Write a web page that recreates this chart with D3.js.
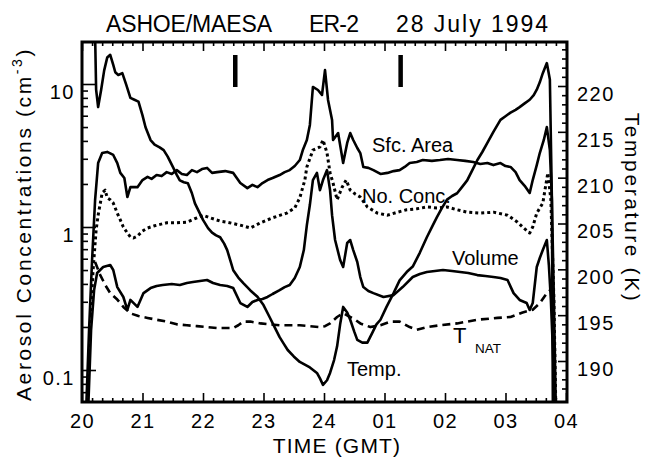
<!DOCTYPE html>
<html>
<head>
<meta charset="utf-8">
<script src="https://cdn.jsdelivr.net/npm/d3@7"></script>
<style>
  body { margin: 0; background: #fff; }
  svg text { font-family: "Liberation Sans", Arial, Helvetica, sans-serif; fill: #000; }
</style>
</head>
<body>
<script>
// time in minutes after 20:00 GMT, 28 July 1994
const timeTicks = [0, 60, 120, 180, 240, 300, 360, 420, 480];
const timeLabels = ["20", "21", "22", "23", "24", "01", "02", "03", "04"];
const concTicks = [0.1, 1, 10];
const concLabels = ["0.1", "1", "10"];
const tempTicks = [190, 195, 200, 205, 210, 215, 220];
const markerTimes = [152, 316];

// surface area [min, value]
const sfcArea = [
  [4, 0.05], [7, 0.19], [10, 0.588], [13, 1.55], [16, 2.80], [20, 3.29], [25, 3.35], [31, 3.19],
  [35, 2.80], [38, 2.39], [42, 2.20], [45, 1.62], [48, 1.90], [55, 1.90], [60, 2.13], [65, 2.24],
  [69, 2.17], [74, 2.31], [79, 2.27], [84, 2.42], [89, 2.35], [94, 2.50], [99, 2.35], [104, 2.31],
  [109, 2.50], [114, 2.42], [119, 2.54], [124, 2.59], [129, 2.39], [134, 2.42], [142, 2.46], [150, 2.39],
  [157, 2.03], [164, 1.87], [169, 1.97], [174, 1.90], [179, 2.03], [184, 2.13], [189, 2.20], [196, 2.31],
  [201, 2.42], [206, 2.50], [211, 2.67], [216, 2.94], [219, 3.45], [223, 4.06], [226, 5.17], [229, 9.53],
  [234, 9.08], [238, 8.38], [241, 12.5], [244, 7.73], [248, 5.60], [249, 4.06], [254, 4.54], [259, 2.80],
  [263, 3.87], [266, 4.54], [269, 4.06], [273, 3.57], [276, 3.29], [279, 2.63], [284, 2.59], [289, 2.50],
  [296, 2.35], [303, 2.39], [309, 2.46], [315, 2.50], [320, 2.63], [325, 2.80], [332, 2.85], [338, 2.94],
  [347, 2.90], [355, 2.94], [363, 2.99], [372, 2.94], [380, 2.90], [388, 2.85], [395, 2.76], [402, 2.80],
  [408, 2.71], [415, 2.80], [420, 2.67], [425, 2.63], [430, 2.42], [434, 2.13], [439, 1.94], [444, 1.73],
  [447, 2.13], [451, 2.71], [454, 3.29], [458, 4.06], [461, 5.00], [464, 3.45], [466, 1.55], [468, 0.309],
  [470, 0.05]
];

const noConc = [
  [5, 0.05], [8, 0.19], [11, 0.500], [14, 0.953], [16, 1.21], [20, 1.73], [23, 1.81], [25, 1.60],
  [28, 1.55], [31, 1.47], [35, 1.25], [38, 1.12], [41, 1.00], [45, 0.908], [48, 0.851], [51, 0.838],
  [55, 0.865], [60, 0.938], [65, 0.984], [72, 1.02], [84, 1.07], [94, 1.07], [104, 1.08], [114, 1.16],
  [120, 1.21], [127, 1.16], [137, 1.10], [144, 1.08], [157, 1.03], [167, 0.984], [177, 1.07], [189, 1.16],
  [203, 1.25], [211, 1.36], [216, 1.60], [221, 2.13], [223, 2.63], [229, 3.45], [236, 3.63], [239, 4.06],
  [243, 3.29], [246, 2.39], [249, 2.03], [253, 1.55], [258, 1.90], [262, 2.13], [266, 1.81], [271, 1.70],
  [276, 1.62], [283, 1.38], [293, 1.25], [303, 1.21], [313, 1.27], [322, 1.32], [332, 1.34], [342, 1.38],
  [352, 1.36], [362, 1.38], [372, 1.32], [382, 1.27], [395, 1.25], [408, 1.27], [422, 1.21], [432, 1.08],
  [438, 0.984], [444, 0.908], [447, 1.00], [451, 1.25], [457, 1.47], [460, 1.97], [462, 2.39], [465, 1.55],
  [468, 0.309], [470, 0.05]
];

const volume = [
  [6, 0.05], [9, 0.19], [12, 0.362], [15, 0.477], [21, 0.525], [28, 0.542], [31, 0.500], [35, 0.380],
  [41, 0.324], [45, 0.263], [48, 0.309], [55, 0.276], [61, 0.345], [68, 0.374], [74, 0.387], [80, 0.393],
  [89, 0.399], [97, 0.393], [104, 0.406], [110, 0.412], [117, 0.419], [124, 0.426], [130, 0.406], [137, 0.393],
  [144, 0.387], [150, 0.374], [157, 0.294], [164, 0.276], [169, 0.299], [174, 0.309], [179, 0.314], [184, 0.324],
  [189, 0.340], [196, 0.362], [201, 0.380], [206, 0.393], [211, 0.440], [216, 0.525], [220, 0.690], [223, 1.03],
  [226, 1.43], [229, 2.13], [233, 2.39], [236, 1.81], [239, 2.13], [243, 2.50], [246, 1.81], [248, 1.21],
  [251, 0.811], [256, 0.588], [259, 0.525], [263, 0.773], [266, 0.811], [269, 0.690], [273, 0.569], [276, 0.447],
  [279, 0.380], [284, 0.357], [289, 0.345], [299, 0.324], [309, 0.334], [318, 0.380], [328, 0.447], [335, 0.469],
  [342, 0.484], [350, 0.492], [358, 0.500], [367, 0.492], [375, 0.484], [383, 0.477], [392, 0.461], [400, 0.454],
  [408, 0.447], [415, 0.440], [422, 0.426], [428, 0.345], [434, 0.309], [441, 0.294], [444, 0.263], [447, 0.294],
  [451, 0.525], [454, 0.607], [457, 0.690], [461, 0.811], [463, 0.542], [465, 0.309], [467, 0.138], [469, 0.05]
];

// temperature (K) [min, K]
const temp = [
  [13, 225.6], [14, 219.6], [16, 217.7], [19, 219.6], [22, 221.7], [25, 223.1], [28, 223.4], [31, 222.3],
  [33, 221.5], [36, 221.2], [40, 221.4], [44, 220.1], [48, 218.7], [52, 218.5], [56, 218.3], [60, 216.8],
  [63, 215.5], [68, 214.1], [72, 213.6], [77, 213.3], [81, 213.0], [85, 212.3], [90, 211.2], [94, 210.3],
  [97, 209.7], [101, 209.5], [105, 209.4], [109, 208.3], [112, 207.2], [116, 206.3], [120, 205.4], [125, 204.5],
  [129, 204.0], [133, 203.7], [137, 203.5], [141, 202.8], [144, 202.1], [147, 201.0], [150, 199.9], [155, 199.1],
  [160, 198.5], [167, 197.7], [174, 197.0], [180, 196.1], [186, 194.8], [191, 193.7], [196, 192.6], [200, 191.9],
  [204, 191.2], [210, 190.5], [216, 189.9], [221, 189.6], [226, 189.3], [233, 188.7], [236, 188.1], [239, 187.4],
  [243, 187.9], [246, 188.7], [250, 190.1], [253, 191.6], [256, 194.0], [259, 195.9], [263, 195.3], [266, 194.5],
  [270, 193.2], [273, 192.3], [278, 192.0], [283, 192.0], [288, 193.1], [292, 194.0], [296, 194.5], [302, 195.9],
  [309, 197.4], [315, 198.8], [322, 199.7], [328, 200.3], [335, 201.8], [342, 203.5], [347, 204.6], [352, 205.7],
  [357, 206.7], [362, 207.6], [367, 208.0], [372, 208.3], [377, 209.0], [382, 209.7], [387, 210.8], [392, 211.9],
  [397, 212.8], [402, 213.8], [408, 215.0], [415, 216.3], [420, 216.7], [425, 217.1], [430, 217.4], [434, 217.7],
  [439, 218.1], [444, 218.5], [448, 219.0], [451, 219.6], [454, 220.4], [457, 221.4], [461, 222.5], [464, 220.7],
  [466, 207.6], [467, 184.7]
];

const tNat = [
  [13, 200.8], [18, 199.4], [23, 198.3], [28, 197.4], [35, 196.7], [41, 195.9], [48, 195.2], [56, 194.9],
  [65, 194.7], [74, 194.5], [84, 194.3], [94, 194.0], [104, 193.9], [114, 193.8], [124, 193.7], [134, 193.6],
  [144, 193.6], [150, 193.6], [155, 193.9], [160, 194.3], [167, 194.3], [177, 194.1], [186, 194.0], [196, 193.9],
  [206, 193.9], [216, 193.9], [226, 193.8], [236, 193.7], [241, 193.8], [246, 194.1], [253, 194.8], [259, 195.2],
  [266, 194.8], [271, 194.5], [276, 194.1], [286, 193.7], [296, 193.9], [306, 194.3], [315, 194.3], [320, 194.0],
  [325, 193.7], [332, 193.4], [342, 193.7], [355, 193.9], [372, 194.1], [392, 194.5], [412, 194.7], [425, 194.8],
  [437, 195.3], [447, 195.6], [454, 196.3], [461, 197.4], [464, 197.7]
];

const w = 648, h = 459;
const pLeft = 82, pRight = 567, pTop = 42, pBottom = 402;

const x = d3.scaleLinear().domain([0, 480]).range([pLeft, pRight - 1]);
const yC = d3.scaleLog().domain([0.1, 10]).range([370, 84]);
const yT = d3.scaleLinear().domain([190, 220]).range([361, 86]);

const svg = d3.select("body").append("svg").attr("width", w).attr("height", h);

svg.append("clipPath").attr("id", "plot")
  .append("rect").attr("x", pLeft).attr("y", pTop).attr("width", pRight - pLeft).attr("height", pBottom - pTop);

const g = svg.append("g").attr("clip-path", "url(#plot)");

const lineC = d3.line().x(d => x(d[0])).y(d => yC(d[1]));
const lineT = d3.line().x(d => x(d[0])).y(d => yT(d[1]));

function draw(data, fn, dash, sw) {
  g.append("path").datum(data)
    .attr("d", fn)
    .attr("fill", "none")
    .attr("stroke", "#000")
    .attr("stroke-width", sw)
    .attr("stroke-linejoin", "round")
    .attr("stroke-dasharray", dash);
}

draw(sfcArea, lineC, null, 2.6);
draw(noConc, lineC, "3,3", 3);
draw(volume, lineC, null, 2.6);
draw(temp, lineT, null, 2.6);
draw(tNat, lineT, "8,5", 2.6);

// turn markers
g.selectAll("line.mark").data(markerTimes).enter().append("line")
  .attr("x1", d => x(d)).attr("x2", d => x(d))
  .attr("y1", 55).attr("y2", 87)
  .attr("stroke", "#000").attr("stroke-width", 4.5);

// axes
const minorTimes = d3.range(0, 481, 10).filter(d => d % 60 !== 0);
const minorConc = [0.06, 0.07, 0.08, 0.09, 0.2, 0.3, 0.4, 0.5, 0.6, 0.7, 0.8, 0.9, 2, 3, 4, 5, 6, 7, 8, 9];
const minorTemp = d3.range(187, 226).filter(d => d % 5 !== 0);

function styleAxis(sel) {
  sel.select(".domain").remove();
  sel.selectAll(".tick line").attr("stroke", "#000").attr("stroke-width", 1.6);
  sel.selectAll("text").attr("font-size", 20).attr("font-family", null).attr("letter-spacing", 1.5);
}

svg.append("g").attr("transform", `translate(0,${pBottom})`)
  .call(d3.axisBottom(x).tickValues(timeTicks).tickSize(-9).tickPadding(12)
    .tickFormat((d, i) => timeLabels[i]))
  .call(styleAxis)
  .selectAll("text").attr("dy", "0.72em");
svg.append("g").attr("transform", `translate(0,${pBottom})`)
  .call(d3.axisBottom(x).tickValues(minorTimes).tickSize(-4).tickFormat(""))
  .call(styleAxis);
svg.append("g").attr("transform", `translate(0,${pTop})`)
  .call(d3.axisTop(x).tickValues(timeTicks).tickSize(-9).tickFormat(""))
  .call(styleAxis);
svg.append("g").attr("transform", `translate(0,${pTop})`)
  .call(d3.axisTop(x).tickValues(minorTimes).tickSize(-4).tickFormat(""))
  .call(styleAxis);

svg.append("g").attr("transform", `translate(${pLeft},0)`)
  .call(d3.axisLeft(yC).tickValues(concTicks).tickSize(-14).tickPadding(7)
    .tickFormat((d, i) => concLabels[i]))
  .call(styleAxis)
  .selectAll("text").attr("dy", "0.72em");
svg.append("g").attr("transform", `translate(${pLeft},0)`)
  .call(d3.axisLeft(yC).tickValues(minorConc).tickSize(-6).tickFormat(""))
  .call(styleAxis);

svg.append("g").attr("transform", `translate(${pRight},0)`)
  .call(d3.axisRight(yT).tickValues(tempTicks).tickSize(-9).tickPadding(10))
  .call(styleAxis)
  .selectAll("text").attr("dy", "0.72em");
svg.append("g").attr("transform", `translate(${pRight},0)`)
  .call(d3.axisRight(yT).tickValues(minorTemp).tickSize(-5).tickFormat(""))
  .call(styleAxis);

// frame
svg.append("rect")
  .attr("x", pLeft).attr("y", pTop).attr("width", pRight - pLeft).attr("height", pBottom - pTop)
  .attr("fill", "none").attr("stroke", "#000").attr("stroke-width", 3);

// curve labels
const lab = svg.append("g").attr("font-size", 20);
lab.append("text").attr("x", 372).attr("y", 152).text("Sfc. Area");
lab.append("text").attr("x", 362).attr("y", 203).text("No. Conc.");
lab.append("text").attr("x", 452).attr("y", 265).text("Volume");
lab.append("text").attr("x", 347).attr("y", 376).text("Temp.");
lab.append("text").attr("x", 453).attr("y", 343).attr("font-size", 22).text("T");
lab.append("text").attr("x", 475).attr("y", 353).attr("font-size", 13.5).text("NAT");

// title
const title = svg.append("g").attr("font-size", 23);
title.append("text").attr("x", 106).attr("y", 32).attr("textLength", 166)
  .attr("lengthAdjust", "spacing").text("ASHOE/MAESA");
title.append("text").attr("x", 309).attr("y", 32).attr("textLength", 50)
  .attr("lengthAdjust", "spacing").text("ER-2");
title.append("text").attr("x", 396).attr("y", 32).attr("textLength", 152)
  .attr("lengthAdjust", "spacing").text("28 July 1994");

// axis titles
const yl = svg.append("text")
  .attr("transform", `translate(31,224) rotate(-90)`)
  .attr("text-anchor", "middle").attr("font-size", 21).attr("letter-spacing", 2.6);
yl.append("tspan").text("Aerosol Concentrations (cm");
yl.append("tspan").attr("font-size", 14).attr("dy", -9).text("-3");
yl.append("tspan").attr("dy", 9).text(")");

svg.append("text")
  .attr("transform", `translate(625,208) rotate(90)`)
  .attr("text-anchor", "middle").attr("font-size", 21).attr("letter-spacing", 2.6)
  .text("Temperature (K)");

svg.append("text").attr("x", 337).attr("y", 453).attr("text-anchor", "middle")
  .attr("font-size", 21).attr("letter-spacing", 1.2).text("TIME (GMT)");
</script>
</body>
</html>
